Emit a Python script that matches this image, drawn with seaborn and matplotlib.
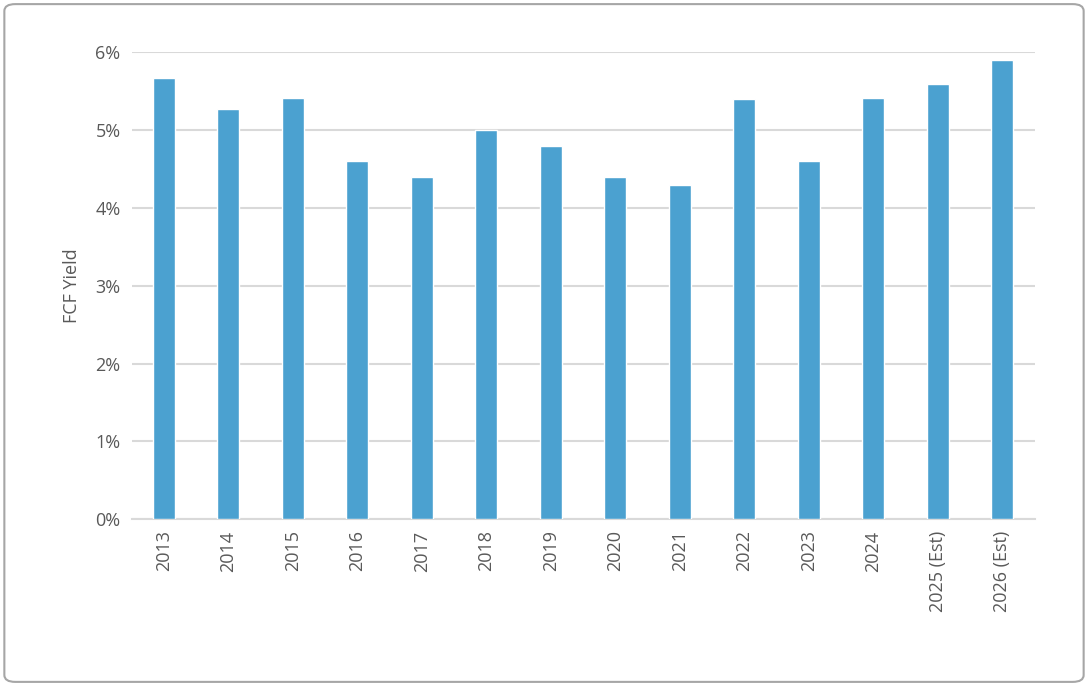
import matplotlib
matplotlib.use("Agg")
import matplotlib.pyplot as plt
import seaborn as sns
import pandas as pd
from matplotlib.patches import FancyBboxPatch
from matplotlib.ticker import FuncFormatter

years = ['2013', '2014', '2015', '2016', '2017', '2018', '2019', '2020',
         '2021', '2022', '2023', '2024', '2025 (Est)', '2026 (Est)']
fcf_yield = [5.67, 5.27, 5.41, 4.60, 4.40, 5.00, 4.79, 4.40,
             4.29, 5.40, 4.60, 5.41, 5.59, 5.90]

df = pd.DataFrame({'year': years, 'yield': fcf_yield})

sns.set_style("white")
plt.rcParams['font.family'] = ['Open Sans', 'DejaVu Sans']
grey = '#595959'

fig = plt.figure(figsize=(10.88, 6.86), dpi=100)
fig.patches.append(FancyBboxPatch((0.004, 0.006), 0.992, 0.988,
                                  boxstyle="round,pad=0,rounding_size=0.01",
                                  transform=fig.transFigure, fill=False,
                                  edgecolor='#a6a6a6', linewidth=1.5))
ax = fig.add_axes([0.121, 0.243, 0.830, 0.681])

sns.barplot(data=df, x='year', y='yield', color='#4ba1d0', width=0.34,
            saturation=1, ax=ax, zorder=3)

ax.set_ylim(0, 6)
ax.set_yticks(range(7))
ax.yaxis.set_major_formatter(FuncFormatter(lambda v, p: f"{int(v)}%"))
ax.grid(axis='y', color='#d9d9d9', linewidth=1.5, zorder=0)
ax.set_axisbelow(True)
for s in ['top', 'right', 'left']:
    ax.spines[s].set_visible(False)
ax.spines['bottom'].set_color('#d9d9d9')
ax.spines['bottom'].set_linewidth(1.5)
ax.tick_params(axis='both', colors=grey, labelsize=13, length=0, pad=8)
ax.tick_params(axis='x', rotation=90)
ax.set_xlabel('')
ax.set_ylabel('FCF Yield', color=grey, fontsize=13, labelpad=10)
ax.set_xlim(-0.5, len(years) - 0.5)

fig.savefig('out.png', dpi=100)
